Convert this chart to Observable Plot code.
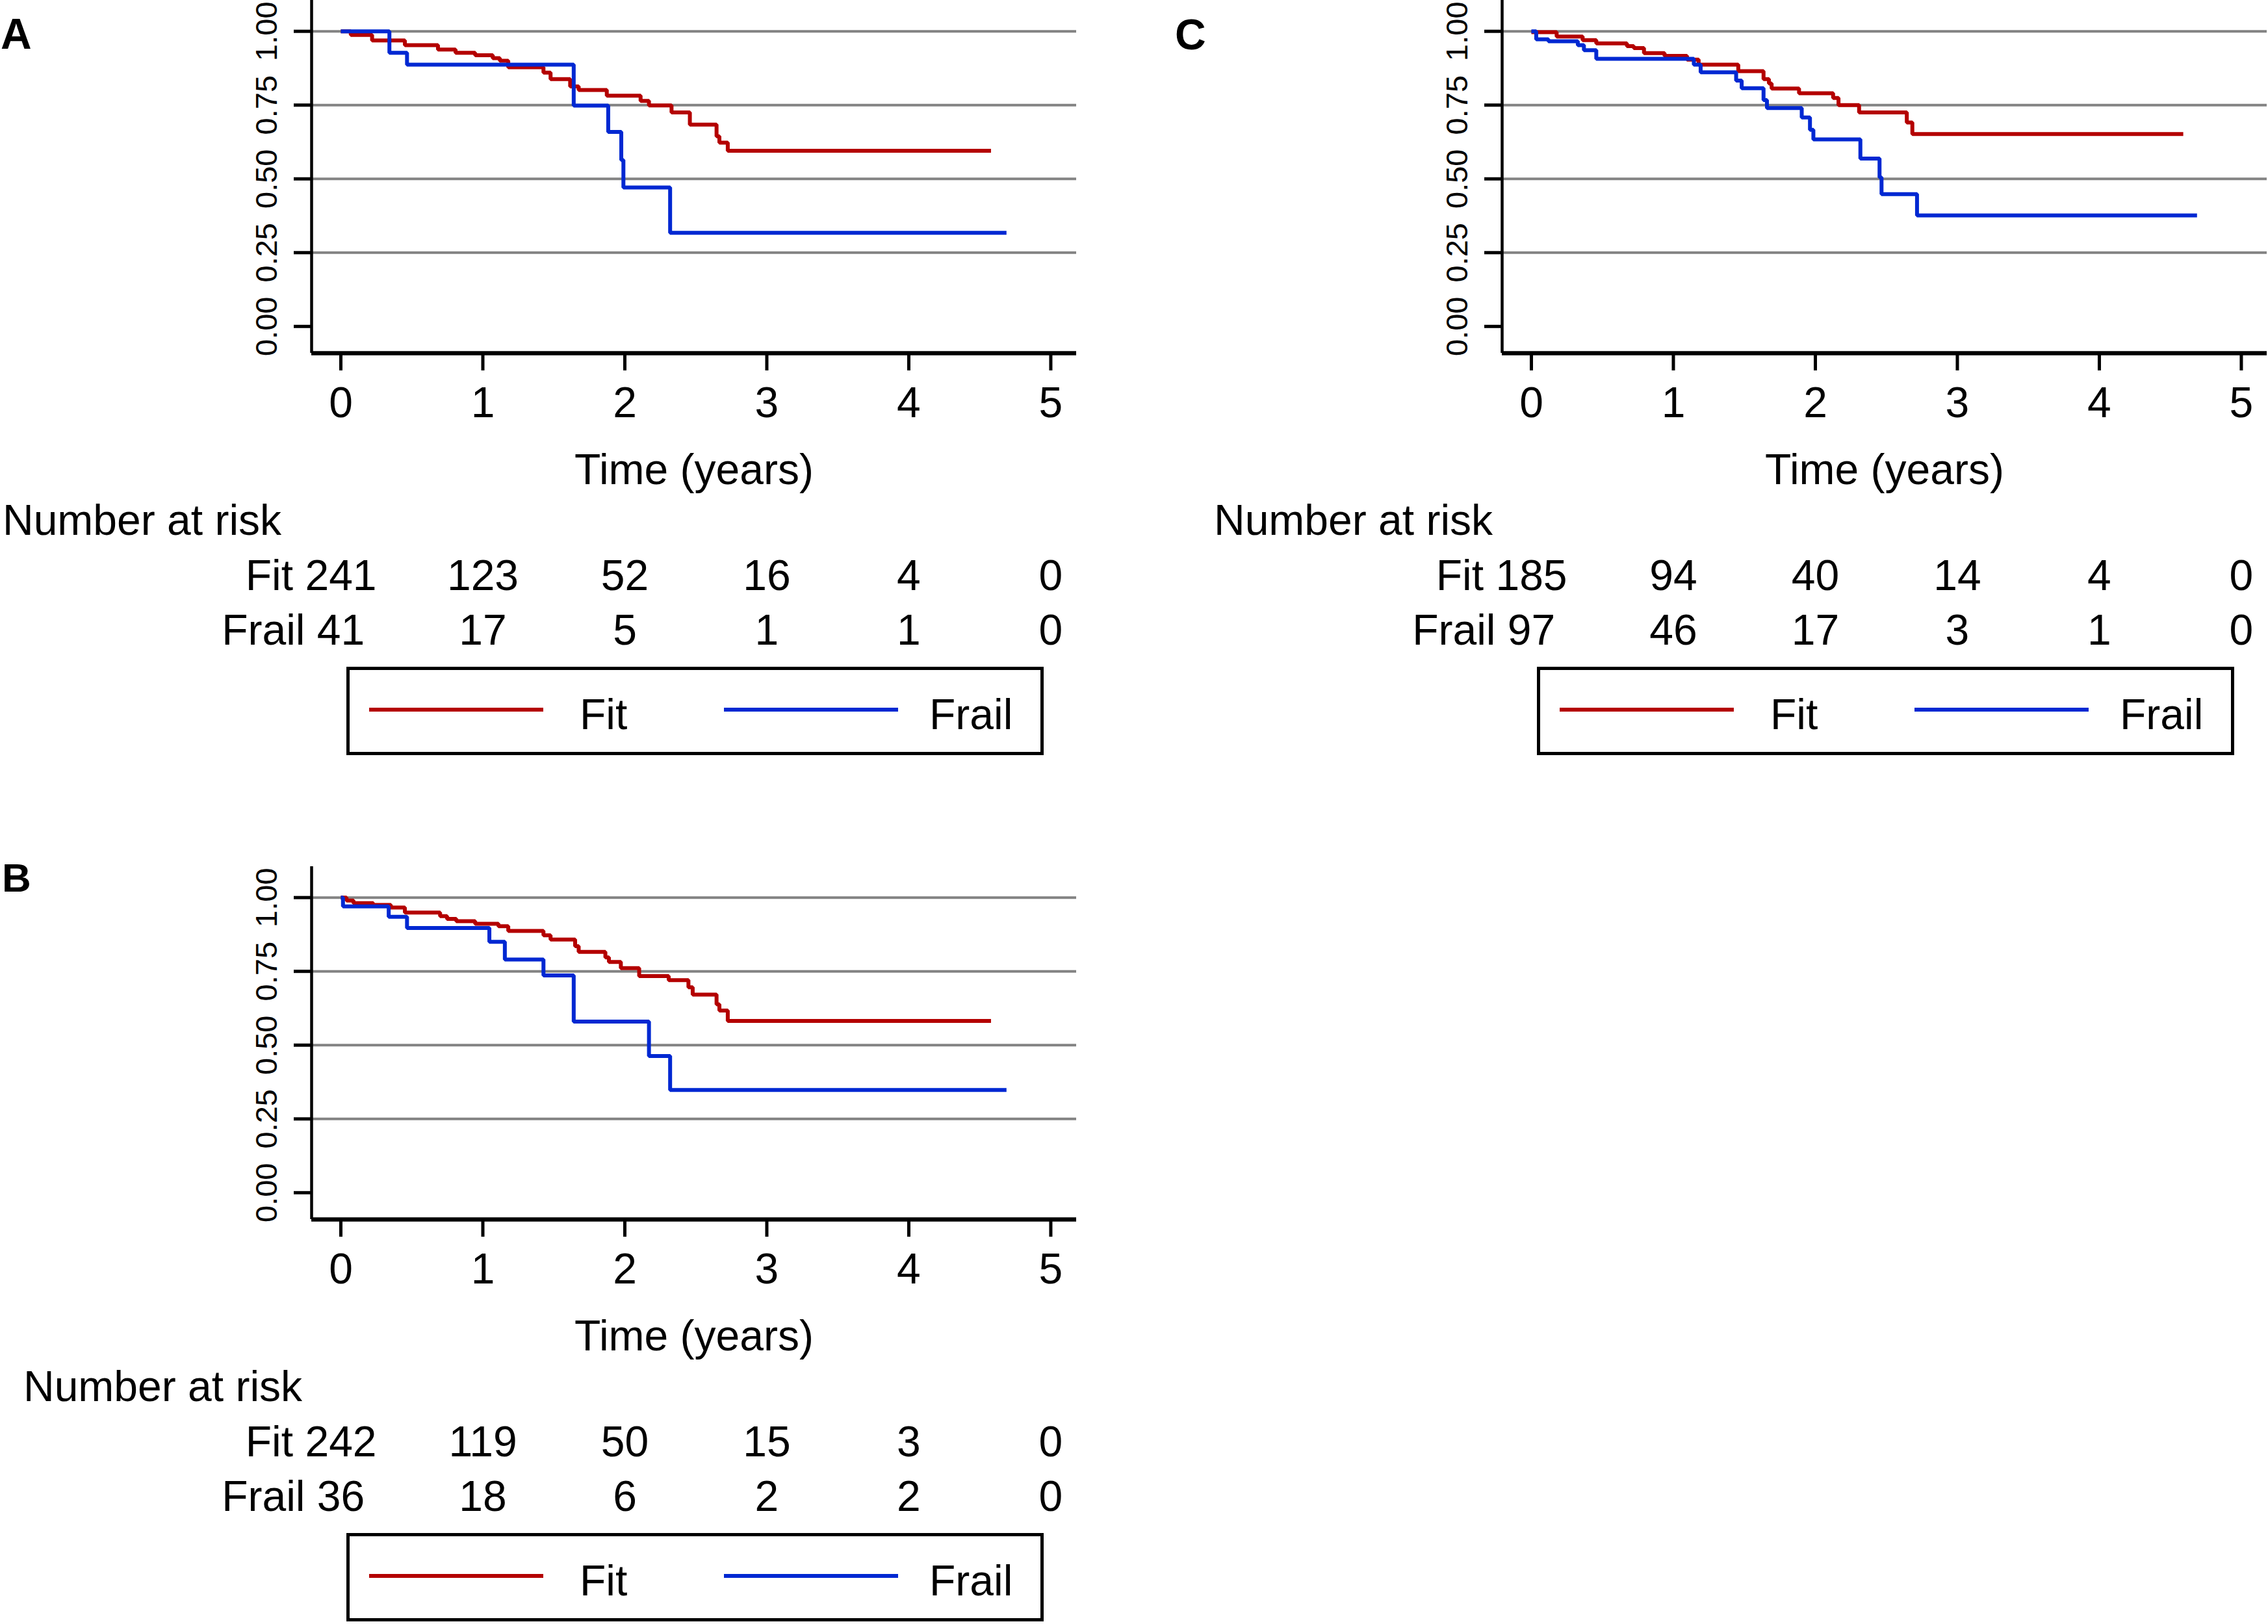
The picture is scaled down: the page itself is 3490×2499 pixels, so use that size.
<!DOCTYPE html>
<html>
<head>
<meta charset="utf-8">
<script src="https://cdn.jsdelivr.net/npm/d3@7"></script>
<script src="https://cdn.jsdelivr.net/npm/@observablehq/plot@0.6"></script>
<style>
html, body { margin: 0; padding: 0; background: #fff; }
#page { position: relative; width: 3490px; height: 2499px; overflow: hidden; background: #fff;
  font-family: "Liberation Sans", Arial, Helvetica, sans-serif; color: #000; }
.txt { position: absolute; font-size: 66px; line-height: 66px; white-space: nowrap; }
.letter { font-weight: bold; }
.legbox { position: absolute; box-sizing: border-box; border: 5px solid #000; background: #fff; }
.swatch { position: absolute; height: 6px; }
</style>
</head>
<body>
<div id="page"></div>
<script>
// ---------------- data ----------------
const groups = ["Fit", "Frail"];
const groupColors = ["#b40000", "#0028d2"];
const timeTicks = [0, 1, 2, 3, 4, 5];
const survTicks = [0, 0.25, 0.5, 0.75, 1];
const gridTicks = [0.25, 0.5, 0.75, 1];
const axisTitle = "Time (years)";
const riskTitle = "Number at risk";

// Panel A
const aFitTime = [0, 0.07, 0.22, 0.451, 0.684, 0.808, 0.946, 1.070, 1.120, 1.179, 1.427, 1.477, 1.615, 1.675, 1.873, 2.111, 2.170, 2.329, 2.458, 2.646, 2.666, 2.725, 4.579];
const aFitSurv = [1, 0.988, 0.969, 0.953, 0.938, 0.927, 0.919, 0.909, 0.900, 0.878, 0.860, 0.838, 0.813, 0.801, 0.782, 0.764, 0.749, 0.725, 0.684, 0.644, 0.623, 0.595, 0.595];
const aFrailTime = [0, 0.342, 0.466, 1.640, 1.883, 1.975, 1.990, 2.319, 4.688];
const aFrailSurv = [1, 0.927, 0.887, 0.748, 0.659, 0.564, 0.471, 0.317, 0.317];
const aRiskFit = [241, 123, 52, 16, 4, 0];
const aRiskFrail = [41, 17, 5, 1, 1, 0];

// Panel B
const bFitTime = [0, 0.040, 0.089, 0.228, 0.352, 0.451, 0.699, 0.748, 0.813, 0.946, 1.110, 1.179, 1.427, 1.477, 1.650, 1.675, 1.863, 1.888, 1.972, 2.101, 2.309, 2.448, 2.478, 2.646, 2.666, 2.725, 4.579];
const bFitSurv = [1, 0.990, 0.981, 0.975, 0.966, 0.949, 0.937, 0.928, 0.920, 0.911, 0.903, 0.887, 0.872, 0.858, 0.835, 0.816, 0.797, 0.782, 0.761, 0.734, 0.720, 0.696, 0.671, 0.638, 0.617, 0.582, 0.582];
const bFrailTime = [0, 0.015, 0.337, 0.466, 1.046, 1.155, 1.427, 1.640, 2.170, 2.319, 4.688];
const bFrailSurv = [1, 0.970, 0.935, 0.897, 0.850, 0.790, 0.736, 0.580, 0.463, 0.348, 0.348];
const bRiskFit = [242, 119, 50, 15, 3, 0];
const bRiskFrail = [36, 18, 6, 2, 2, 0];

// Panel C
const cFitTime = [0, 0.178, 0.361, 0.457, 0.673, 0.721, 0.793, 0.938, 1.096, 1.178, 1.457, 1.635, 1.673, 1.692, 1.885, 2.125, 2.163, 2.308, 2.644, 2.683, 4.591];
const cFitSurv = [0.997, 0.982, 0.970, 0.959, 0.950, 0.943, 0.926, 0.917, 0.904, 0.887, 0.865, 0.838, 0.823, 0.806, 0.790, 0.774, 0.750, 0.725, 0.691, 0.652, 0.652];
const cFrailTime = [0, 0.034, 0.120, 0.327, 0.370, 0.457, 1.144, 1.192, 1.442, 1.481, 1.635, 1.659, 1.904, 1.962, 1.986, 2.317, 2.452, 2.466, 2.716, 4.688];
const cFrailSurv = [1, 0.973, 0.966, 0.953, 0.936, 0.907, 0.887, 0.861, 0.833, 0.807, 0.767, 0.740, 0.708, 0.666, 0.634, 0.569, 0.505, 0.448, 0.376, 0.376];
const cRiskFit = [185, 94, 40, 14, 4, 0];
const cRiskFrail = [97, 46, 17, 3, 1, 0];

// ---------------- layout (styles only) ----------------
const FONT = '"Liberation Sans", Arial, Helvetica, sans-serif';
const W = 1700, AXL = 479, AXR = 1656, AXB = 543, SVGH = 770;
const xDomain = [-0.206, 5.181];
const yDomain = [-0.0907, 1.105];
const page = document.getElementById("page");

function addText(str, left, baseline, cls) {
  const d = document.createElement("div");
  d.className = "txt" + (cls ? " " + cls : "");
  d.textContent = str;
  d.style.left = left + "px";
  d.style.top = (baseline - 56) + "px";
  page.appendChild(d);
  return d;
}

function place(node, left, top) {
  node.style.position = "absolute";
  node.style.left = left + "px";
  node.style.top = top + "px";
  page.appendChild(node);
}

function makePanel(cfg) {
  const {ox, oy} = cfg;
  const rows = [];
  cfg.fitT.forEach((t, i) => rows.push({t, s: cfg.fitS[i], g: groups[0]}));
  cfg.frailT.forEach((t, i) => rows.push({t, s: cfg.frailS[i], g: groups[1]}));

  const surv = Plot.plot({
    width: W, height: SVGH,
    marginLeft: AXL, marginRight: W - AXR, marginTop: 0, marginBottom: SVGH - AXB,
    x: {domain: xDomain},
    y: {domain: yDomain},
    color: {domain: groups, range: groupColors},
    style: {fontFamily: FONT, color: "#000", background: "transparent", overflow: "visible"},
    marks: [
      Plot.gridY(gridTicks, {stroke: "#838383", strokeOpacity: 1, strokeWidth: 4}),
      Plot.line(rows, {x: "t", y: "s", z: "g", stroke: "g", curve: "step-after",
        strokeWidth: 6, strokeLinecap: "butt", strokeLinejoin: "miter"}),
      Plot.ruleX([xDomain[0]], {stroke: "#000", strokeWidth: 4.5}),
      Plot.ruleY([yDomain[0]], {stroke: "#000", strokeWidth: 6.5}),
      Plot.axisY(survTicks, {tickFormat: d3.format(".2f"), tickRotate: -90, tickSize: 27,
        tickPadding: 27, strokeWidth: 5, fontSize: 47, label: null}),
      Plot.axisX(timeTicks, {tickFormat: d3.format("d"), tickSize: 27, tickPadding: 25,
        strokeWidth: 5, fontSize: 66, label: null}),
      Plot.text([axisTitle], {text: d => d, frameAnchor: "bottom", dy: 201,
        lineAnchor: "bottom", fontSize: 66})
    ]
  });
  place(surv, ox, oy);

  // number at risk table
  const riskRows = [];
  cfg.riskFit.forEach((n, i) => riskRows.push({t: timeTicks[i], g: groups[0], n}));
  cfg.riskFrail.forEach((n, i) => riskRows.push({t: timeTicks[i], g: groups[1], n}));
  const firsts = [cfg.riskFit[0], cfg.riskFrail[0]];
  const labelMarks = groups.map((g, i) =>
    Plot.text([g], {x: () => timeTicks[0], y: d => d, text: d => d, textAnchor: "end",
      lineAnchor: "bottom", fontSize: 66,
      dx: -(String(firsts[i]).length * 0.556 * 66 / 2 + 0.278 * 66)})
  );
  const risk = Plot.plot({
    width: W, height: 260,
    marginLeft: AXL, marginRight: W - AXR, marginTop: 0, marginBottom: 0,
    x: {domain: xDomain, axis: null},
    y: {type: "point", domain: groups, range: [147, 231], padding: 0, axis: null},
    style: {fontFamily: FONT, color: "#000", background: "transparent", overflow: "visible"},
    marks: [
      Plot.text(riskRows, {x: "t", y: "g", text: d => String(d.n), fontSize: 66, lineAnchor: "bottom"}),
      ...labelMarks
    ]
  });
  place(risk, ox, oy + 760);

  const L = addText(cfg.letter, cfg.letterX, cfg.letterBase, "letter");
  L.style.fontSize = cfg.letterSize + "px";
  addText(riskTitle, cfg.riskTitleX, oy + 823);

  // legend
  const box = document.createElement("div");
  box.className = "legbox";
  box.style.left = (ox + 533) + "px"; box.style.top = (oy + 1026) + "px";
  box.style.width = "1073px"; box.style.height = "136px";
  page.appendChild(box);
  const swX = [568, 1114], txX = [892, 1430];
  groups.forEach((g, i) => {
    const s = document.createElement("div");
    s.className = "swatch";
    s.style.left = (ox + swX[i]) + "px"; s.style.top = (oy + 1089) + "px";
    s.style.width = "268px"; s.style.background = groupColors[i];
    page.appendChild(s);
    addText(g, ox + txX[i], oy + 1122);
  });
}

makePanel({letter: "A", ox: 0, oy: 0, letterX: 1, letterBase: 75, letterSize: 66, riskTitleX: 4,
  fitT: aFitTime, fitS: aFitSurv, frailT: aFrailTime, frailS: aFrailSurv,
  riskFit: aRiskFit, riskFrail: aRiskFrail});
makePanel({letter: "B", ox: 0, oy: 1333, letterX: 3, letterBase: 1374, letterSize: 62, riskTitleX: 36,
  fitT: bFitTime, fitS: bFitSurv, frailT: bFrailTime, frailS: bFrailSurv,
  riskFit: bRiskFit, riskFrail: bRiskFrail});
makePanel({letter: "C", ox: 1832, oy: 0, letterX: 1808, letterBase: 76, letterSize: 66, riskTitleX: 1868,
  fitT: cFitTime, fitS: cFitSurv, frailT: cFrailTime, frailS: cFrailSurv,
  riskFit: cRiskFit, riskFrail: cRiskFrail});
</script>
</body>
</html>
